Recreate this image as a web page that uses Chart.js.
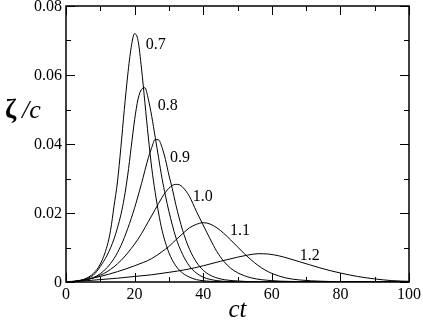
<!DOCTYPE html>
<html>
<head>
<meta charset="utf-8">
<script src="https://cdn.jsdelivr.net/npm/chart.js@4"></script>
<style>
  html, body { margin: 0; padding: 0; background: #fff; }
</style>
</head>
<body>
<canvas id="chart" width="423" height="327"></canvas>
<script>
const serif = '"Liberation Serif", "Times New Roman", serif';

// curve names (written next to each peak)
const curveNames = ['0.7', '0.8', '0.9', '1.0', '1.1', '1.2'];

// values
const x07 = [0, 2, 4, 6, 8, 10, 12, 13, 14, 15, 16, 17, 18, 19, 20, 21, 22, 23, 24, 25, 26, 27, 28, 30, 32, 34, 36, 38, 42, 50, 100];
const y07 = [0, 0.0001, 0.0004, 0.0011, 0.0025, 0.0052, 0.0105, 0.015, 0.022, 0.029, 0.039, 0.050, 0.060, 0.068, 0.072, 0.070, 0.062, 0.052, 0.042, 0.033, 0.026, 0.020, 0.015, 0.0085, 0.0047, 0.0026, 0.0014, 0.0007, 0.0002, 0, 0];

const x08 = [0, 2, 4, 6, 8, 10, 12, 14, 16, 17, 18, 19, 20, 21, 22, 23, 24, 25, 26, 27, 28, 29, 30, 32, 34, 36, 38, 40, 44, 50, 60, 100];
const y08 = [0, 0.0001, 0.0004, 0.001, 0.002, 0.0045, 0.0078, 0.0125, 0.0195, 0.0245, 0.031, 0.039, 0.047, 0.053, 0.0558, 0.0563, 0.053, 0.048, 0.042, 0.036, 0.030, 0.025, 0.0205, 0.013, 0.008, 0.0046, 0.0026, 0.0014, 0.0004, 0.0001, 0, 0];

const x09 = [0, 4, 8, 10, 12, 14, 16, 18, 20, 22, 24, 25, 26, 27, 28, 29, 30, 31, 32, 34, 36, 38, 40, 42, 45, 50, 60, 100];
const y09 = [0, 0.0003, 0.0013, 0.0024, 0.0042, 0.0068, 0.0105, 0.0155, 0.0215, 0.0285, 0.036, 0.039, 0.0413, 0.0412, 0.039, 0.0355, 0.031, 0.027, 0.0225, 0.015, 0.0095, 0.0058, 0.0034, 0.002, 0.0009, 0.0003, 0, 0];

const x10 = [0, 4, 8, 12, 16, 20, 22, 24, 26, 28, 30, 32, 33, 34, 36, 38, 40, 42, 44, 46, 48, 50, 54, 60, 70, 80, 100];
const y10 = [0, 0.0003, 0.0012, 0.003, 0.0062, 0.011, 0.014, 0.0175, 0.021, 0.0245, 0.0272, 0.0283, 0.0282, 0.0275, 0.0248, 0.0205, 0.0165, 0.0125, 0.0088, 0.006, 0.004, 0.0027, 0.0012, 0.0004, 0.0001, 0, 0];

const x11 = [0, 5, 10, 15, 20, 25, 28, 30, 32, 34, 36, 38, 40, 42, 44, 46, 48, 50, 52, 54, 56, 58, 60, 64, 68, 75, 85, 100];
const y11 = [0, 0.0006, 0.0016, 0.003, 0.0047, 0.0068, 0.0088, 0.0103, 0.0122, 0.014, 0.0157, 0.0167, 0.0172, 0.0168, 0.0157, 0.0141, 0.0122, 0.0102, 0.0082, 0.0064, 0.0048, 0.0035, 0.0025, 0.0012, 0.0006, 0.0002, 0, 0];

const x12 = [0, 5, 10, 15, 20, 25, 30, 35, 40, 45, 50, 53, 56, 59, 62, 65, 68, 71, 74, 77, 80, 85, 90, 95, 100];
const y12 = [0, 0.0003, 0.0007, 0.0011, 0.0016, 0.0021, 0.0028, 0.0036, 0.0047, 0.006, 0.0072, 0.0078, 0.0082, 0.0081, 0.0076, 0.0068, 0.0059, 0.005, 0.0041, 0.0033, 0.0026, 0.0016, 0.0009, 0.0004, 0.0002];

// where each curve's name sits (data units)
const labelX = [26.2, 29.7, 33.2, 39.9, 50.7, 71.1];
const labelY = [0.0687, 0.0510, 0.0359, 0.0246, 0.0148, 0.0075];

// tick values
const xMajor = [0, 20, 40, 60, 80, 100];
const xMinor = [10, 30, 50, 70, 90];
const yMajor = [0, 0.02, 0.04, 0.06, 0.08];
const yMinor = [0.01, 0.03, 0.05, 0.07];

const seriesX = [x07, x08, x09, x10, x11, x12];
const seriesY = [y07, y08, y09, y10, y11, y12];

const datasets = curveNames.map((name, i) => ({
  label: name,
  data: seriesX[i].map((x, j) => ({ x: x, y: seriesY[i][j] })),
  borderColor: '#000',
  borderWidth: 1,
  pointRadius: 0,
  fill: false,
  cubicInterpolationMode: 'monotone'
}));

// frame, inward ticks, curve names and axis titles
const framePlugin = {
  id: 'frame',
  afterDraw(chart) {
    const ctx = chart.ctx;
    const { left, right, top, bottom } = chart.chartArea;
    const xs = chart.scales.x;
    const ys = chart.scales.y;
    ctx.save();
    ctx.strokeStyle = '#000';
    ctx.lineWidth = 1;
    ctx.beginPath();
    const tickX = (v, len) => {
      const p = Math.round(xs.getPixelForValue(v)) + 0.5;
      ctx.moveTo(p, bottom); ctx.lineTo(p, bottom - len);
      ctx.moveTo(p, top); ctx.lineTo(p, top + len);
    };
    const tickY = (v, len) => {
      const p = Math.round(ys.getPixelForValue(v)) + 0.5;
      ctx.moveTo(left, p); ctx.lineTo(left + len, p);
      ctx.moveTo(right, p); ctx.lineTo(right - len, p);
    };
    xMajor.forEach(v => tickX(v, 9));
    xMinor.forEach(v => tickX(v, 5));
    yMajor.forEach(v => tickY(v, 9));
    yMinor.forEach(v => tickY(v, 5));
    ctx.stroke();
    ctx.lineWidth = 1.5;
    ctx.strokeRect(left, top, right - left, bottom - top);

    ctx.fillStyle = '#000';
    ctx.font = '16px ' + serif;
    ctx.textAlign = 'center';
    ctx.textBaseline = 'middle';
    curveNames.forEach((name, i) => {
      ctx.fillText(name, xs.getPixelForValue(labelX[i]), ys.getPixelForValue(labelY[i]));
    });

    ctx.textBaseline = 'alphabetic';
    ctx.textAlign = 'left';
    ctx.font = 'bold 27px ' + serif;
    ctx.fillText('ζ', 5, 118);
    ctx.font = 'italic 26px ' + serif;
    ctx.fillText('/c', 22, 118);

    ctx.textAlign = 'center';
    ctx.font = 'italic 25px ' + serif;
    ctx.fillText('ct', (left + right) / 2, 317);
    ctx.restore();
  }
};

new Chart(document.getElementById('chart'), {
  type: 'line',
  data: { datasets: datasets },
  options: {
    responsive: false,
    animation: false,
    layout: {
      autoPadding: false,
      padding: { top: 6, right: 14, left: 0, bottom: 0 }
    },
    plugins: {
      legend: { display: false },
      tooltip: { enabled: false }
    },
    scales: {
      x: {
        type: 'linear',
        min: 0,
        max: 100,
        grid: { display: false, drawTicks: false },
        border: { display: false },
        ticks: {
          stepSize: 20,
          color: '#000',
          padding: 3,
          maxRotation: 0,
          font: { family: serif, size: 16 }
        },
        afterFit: s => { s.height = 45; s.paddingLeft = 0; s.paddingRight = 0; }
      },
      y: {
        min: 0,
        max: 0.08,
        grid: { display: false, drawTicks: false },
        border: { display: false },
        ticks: {
          stepSize: 0.02,
          color: '#000',
          padding: 4,
          labelOffset: 1,
          font: { family: serif, size: 16 },
          callback: v => v === 0 ? '0' : v.toFixed(2)
        },
        afterFit: s => { s.width = 66; s.paddingTop = 0; s.paddingBottom = 0; }
      }
    }
  },
  plugins: [framePlugin]
});
</script>
</body>
</html>
